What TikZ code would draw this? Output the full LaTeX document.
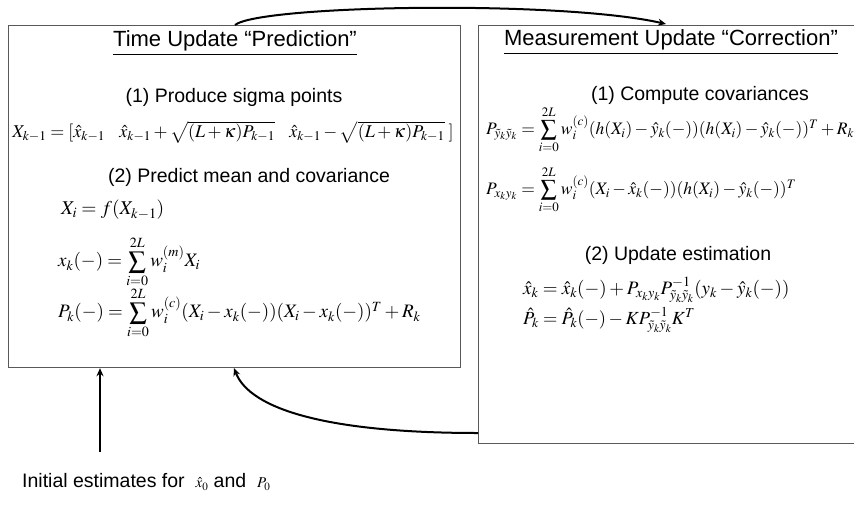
\documentclass[tikz,border=0pt]{standalone}
\usepackage{mathptmx}
\usepackage[no-math]{fontspec}
\usepackage{graphicx}
\setmainfont{Liberation Sans}
\usetikzlibrary{arrows.meta}
\tikzset{
  box/.style={draw=black!65, line width=1.2pt, fill=none},
  ttl/.style={font=\fontsize{22}{25}\selectfont, inner sep=0pt},
  hdr/.style={font=\fontsize{19.5}{23}\selectfont, inner sep=0pt},
  eq/.style={inner sep=0pt},
  flow/.style={line width=2pt, -{Stealth[length=8pt,width=7pt]}}
}
\newcommand{\eqsize}[1]{\fontsize{#1}{#1}\selectfont}
\newcommand{\Sum}{\mathop{\vcenter{\hbox{\scalebox{1.3}{$\textstyle\sum$}}}}\limits_{i=0}^{2L}}
\begin{document}
\begin{tikzpicture}[x=1pt,y=1pt]
\useasboundingbox (0,0) rectangle (854,-506);
% boxes
\node[box, minimum width=452pt, minimum height=342pt, anchor=north west] (tu) at (8,-25) {};
\node[box, minimum width=390pt, minimum height=418pt, anchor=north west] (mu) at (478,-25) {};
% left box contents
\node[ttl] (t1) at (235,-43) {\underline{Time Update \textquotedblleft Prediction\textquotedblright}};
\node[hdr] (h1) at (234,-97) {(1) Produce sigma points};
\node[eq] (e1) at (233,-132) {\eqsize{18}$X_{k-1}=[\hat{x}_{k-1}\hspace{0.8em} \hat{x}_{k-1}+\sqrt{(L+\kappa)P_{k-1}}\hspace{0.8em} \hat{x}_{k-1}-\sqrt{(L+\kappa)P_{k-1}}\;]$};
\node[hdr] (h2) at (249,-177) {(2) Predict mean and covariance};
\node[eq, anchor=west] (e2) at (61,-210) {\eqsize{19.5}$X_i=f(X_{k-1})$};
\node[eq, anchor=west] (e3) at (58,-262) {\eqsize{19}$x_k(-)=\Sum w_i^{(m)}X_i$};
\node[eq, anchor=west] (e4) at (58,-313) {\eqsize{19}$P_k(-)=\Sum w_i^{(c)}(X_i-x_k(-))(X_i-x_k(-))^T+R_k$};
% right box contents
\node[ttl] (t2) at (671,-42) {\underline{Measurement Update \textquotedblleft Correction\textquotedblright}};
\node[hdr] (h3) at (700,-95) {(1) Compute covariances};
\node[eq, anchor=west] (e5) at (486,-130) {\eqsize{17.5}$P_{\tilde{y}_k\tilde{y}_k}=\Sum w_i^{(c)}(h(X_i)-\hat{y}_k(-))(h(X_i)-\hat{y}_k(-))^T+R_k$};
\node[eq, anchor=west] (e6) at (486,-190) {\eqsize{17.5}$P_{x_ky_k}=\Sum w_i^{(c)}(X_i-\hat{x}_k(-))(h(X_i)-\hat{y}_k(-))^T$};
\node[hdr] (h4) at (678,-255) {(2) Update estimation};
\node[eq, anchor=west] (e7) at (523,-290) {\eqsize{19}$\hat{x}_k=\hat{x}_k(-)+P_{x_ky_k}P^{-1}_{\tilde{y}_k\tilde{y}_k}(y_k-\hat{y}_k(-))$};
\node[eq, anchor=west] (e8) at (523,-320) {\eqsize{18.5}$\hat{P}_k=\hat{P}_k(-)-KP^{-1}_{\tilde{y}_k\tilde{y}_k}K^T$};
% initial estimates
\node[hdr, anchor=west] (init) at (22,-482) {Initial estimates for \ {\fontsize{15}{16}\selectfont$\hat{x}_0$} and \ {\fontsize{15}{16}\selectfont$P_0$}};
\coordinate (ia) at (100,-452);
\coordinate (tutop) at (235,-25);
\coordinate (mutop) at (666,-24);
\coordinate (tubot) at (234,-368);
\coordinate (mul) at (478,-433);
% connectors
\draw[flow] (ia) -- (ia |- tu.south);
\draw[flow] (tutop) .. controls (260,-5) and (560,0) .. (mutop);
\draw[flow] (mul) .. controls (330,-433) and (250,-410) .. (tubot);
\end{tikzpicture}
\end{document}
